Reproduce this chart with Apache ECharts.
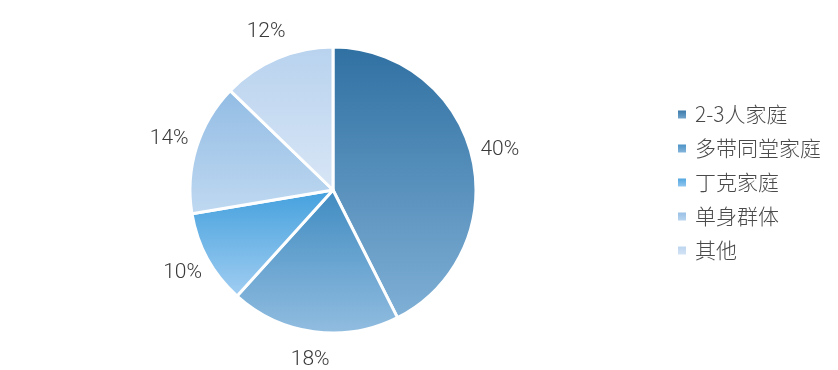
<!DOCTYPE html>
<html><head><meta charset="utf-8">
<script src="https://cdn.jsdelivr.net/npm/echarts@6/dist/echarts.min.js"></script>
<style>html,body{margin:0;padding:0;background:#fff}#c{width:838px;height:370px}</style>
</head><body><div id="c"></div>
<script>
const categories = ['2-3人家庭', '多带同堂家庭', '丁克家庭', '单身群体', '其他'];
const values = [40, 18, 10, 14, 12];
const gradTop = ['#2f70a2', '#3f8bc1', '#43a0dd', '#92bce4', '#b8d2ee'];
const gradBottom = ['#80b0d6', '#92bde0', '#a2cef2', '#c0d9f1', '#d8e6f6'];

function grad(i){
  return new echarts.graphic.LinearGradient(0,0,0,1,[
    {offset:0,color:gradTop[i]},{offset:1,color:gradBottom[i]}]);
}
const chart = echarts.init(document.getElementById('c'));
chart.setOption({
  animation:false,
  legend:{
    orient:'vertical', left:676, top:104, padding:0,
    itemWidth:10, itemHeight:10, itemGap:13, icon:'rect',
    data: categories,
    textStyle:{fontFamily:'Noto Sans CJK SC', fontWeight:300, fontSize:21, color:'#4a4a4a', padding:[0,0,0,3]}
  },
  series:[
    {
      type:'pie', center:[333,190], radius:[0,143], startAngle:90, clockwise:true,
      label:{show:false}, labelLine:{show:false},
      itemStyle:{borderColor:'#fff', borderWidth:3},
      emphasis:{scale:false},
      data: categories.map((n,i)=>({name:n, value:values[i], itemStyle:{color:grad(i)}}))
    },
    {
      type:'pie', center:[333,190], radius:[157,180], startAngle:90, clockwise:true,
      silent:true, legendHoverLink:false,
      itemStyle:{color:'rgba(0,0,0,0)'},
      emphasis:{disabled:true},
      labelLine:{show:false},
      label:{show:true, position:'inside', formatter:'{c}%',
        fontFamily:'Roboto', fontWeight:300, fontSize:21, color:'#3a3a3a'},
      data: categories.map((n,i)=>({name:n, value:values[i]}))
    }
  ]
});
</script></body></html>
